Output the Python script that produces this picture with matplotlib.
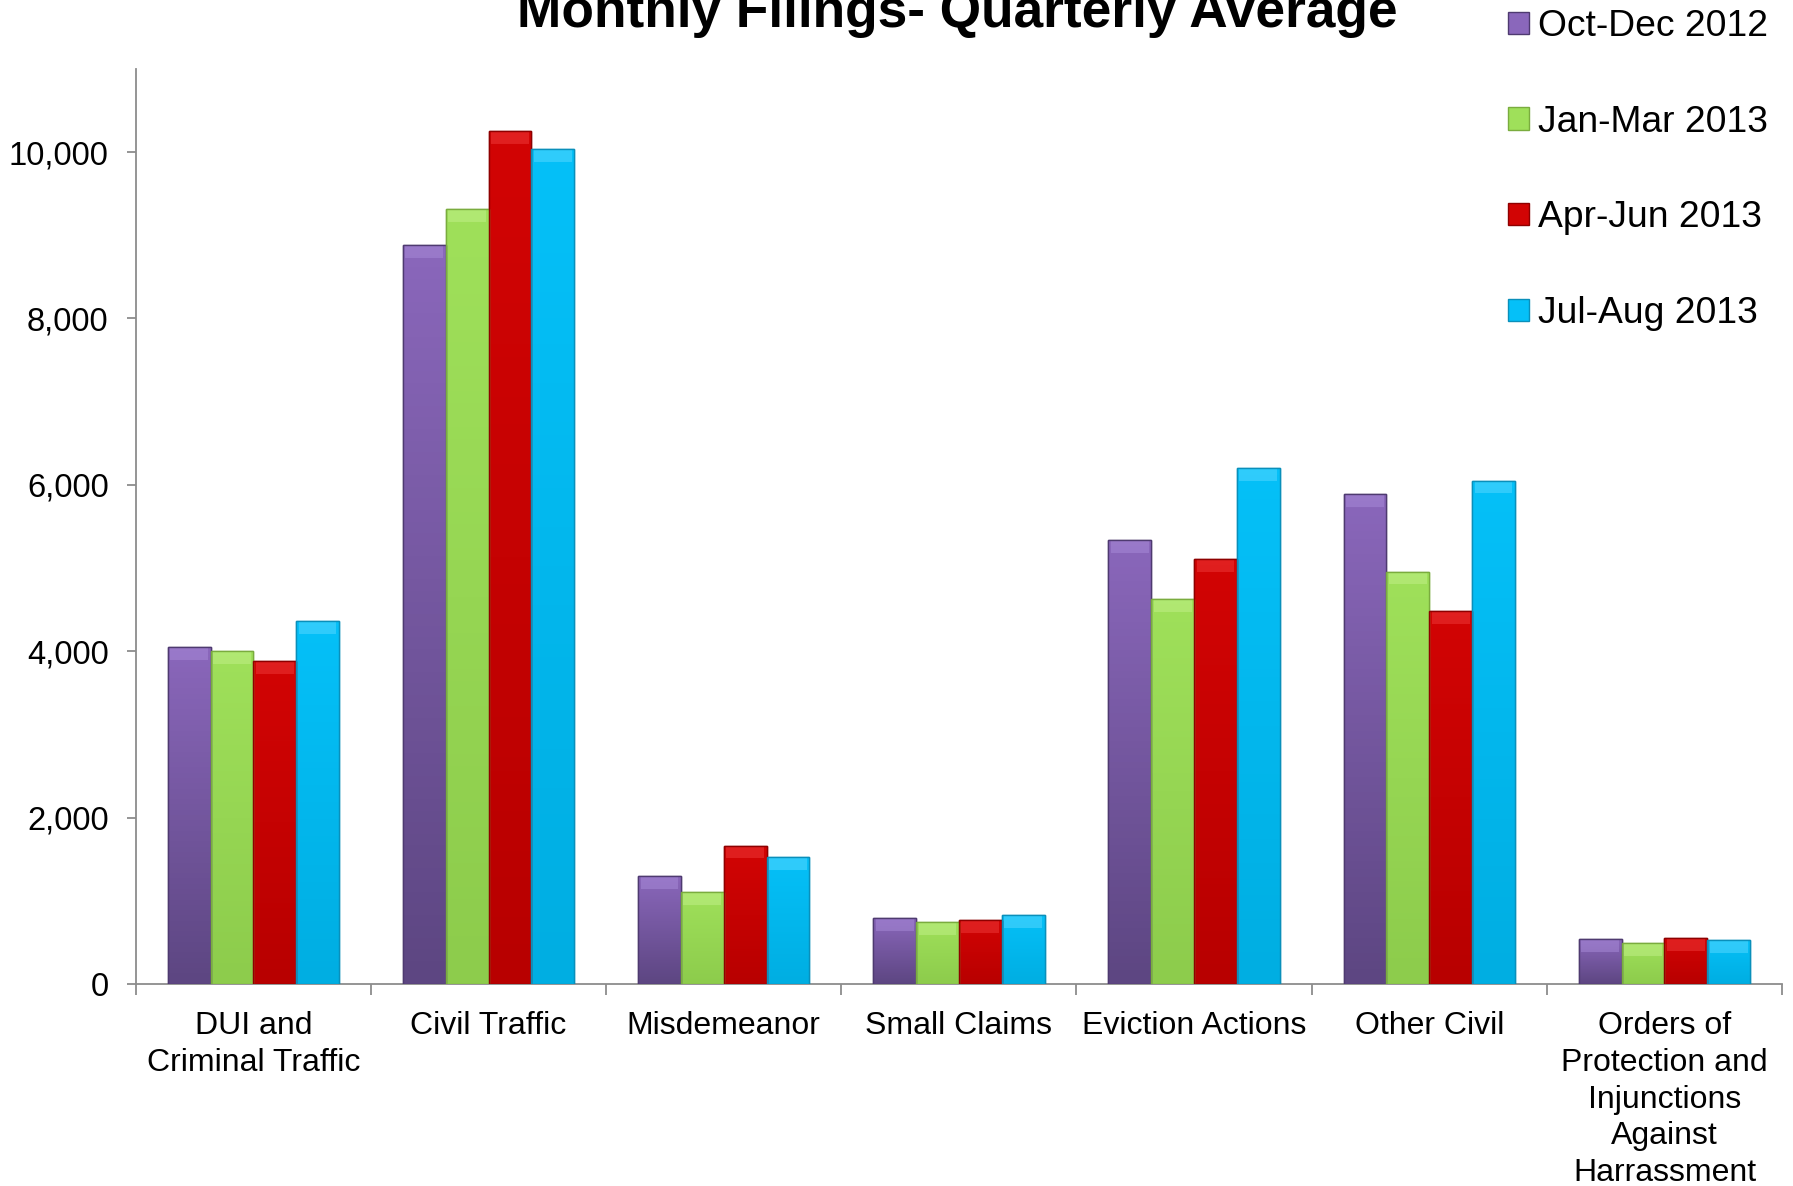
import numpy as np
import matplotlib
matplotlib.use("Agg")
import matplotlib.pyplot as plt
from matplotlib.patches import Rectangle
from matplotlib.colors import LinearSegmentedColormap
from matplotlib.ticker import FuncFormatter, MultipleLocator

plt.rcParams['font.family'] = ['Liberation Sans', 'DejaVu Sans']

categories = ["DUI and\nCriminal Traffic", "Civil Traffic", "Misdemeanor", "Small Claims",
              "Eviction Actions", "Other Civil",
              "Orders of\nProtection and\nInjunctions\nAgainst\nHarrassment"]
series_names = ["Oct-Dec 2012", "Jan-Mar 2013", "Apr-Jun 2013", "Jul-Aug 2013"]
oct_dec_2012 = [4050, 8880, 1300, 796, 5340, 5890, 544]
jan_mar_2013 = [4000, 9310, 1104, 748, 4630, 4960, 500]
apr_jun_2013 = [3885, 10250, 1668, 776, 5107, 4483, 560]
jul_aug_2013 = [4365, 10040, 1531, 836, 6200, 6052, 532]
series_values = [oct_dec_2012, jan_mar_2013, apr_jun_2013, jul_aug_2013]

top_colors = ["#8a67bb", "#9fe05a", "#d20404", "#05c0f8"]
bottom_colors = ["#5d4682", "#8dcc4c", "#b80000", "#00aee2"]
cap_colors = ["#a88bd8", "#c2f08a", "#ee3a3a", "#5ad8ff"]
edge_colors = ["#4e3a70", "#7aac3e", "#8e0000", "#0a8fba"]

fig = plt.figure(figsize=(17.93, 11.86), dpi=100)
ax = fig.add_axes([0.0757, 0.170, 0.9182, 0.772])

n = len(categories)
x = np.arange(n)
width = 0.182
offsets = (np.arange(4) - 1.5) * width

ax.set_xlim(-0.5, n - 0.5)
ax.set_ylim(0, 11000)

for i, (vals, name) in enumerate(zip(series_values, series_names)):
    bars = ax.bar(x + offsets[i], vals, width, color=top_colors[i], edgecolor=edge_colors[i],
                  linewidth=1.0, label=name, zorder=3)
    cmap = LinearSegmentedColormap.from_list("g%d" % i, [bottom_colors[i], top_colors[i]])
    for b in bars:
        bx, by, bw, bh = b.get_x(), b.get_y(), b.get_width(), b.get_height()
        grad = np.linspace(0, 1, 64).reshape(-1, 1)
        im = ax.imshow(grad, cmap=cmap, origin='lower', aspect='auto',
                       extent=(bx, bx + bw, by, by + bh), zorder=3.5)
        im.set_clip_path(b)
        # bevel cap at top
        cap_h = 0.014 * ax.get_ylim()[1]
        ax.add_patch(Rectangle((bx + bw * 0.06, by + bh - cap_h), bw * 0.88, cap_h,
                               facecolor=cap_colors[i], edgecolor='none', alpha=0.5, zorder=4))
        ax.add_patch(Rectangle((bx, by), bw, bh, facecolor='none',
                               edgecolor=edge_colors[i], linewidth=1.0, zorder=4.5))

ax.set_xlim(-0.5, n - 0.5)
ax.set_ylim(0, 11000)

for s in ['top', 'right']:
    ax.spines[s].set_visible(False)
for s in ['left', 'bottom']:
    ax.spines[s].set_color('#8c8c8c')
    ax.spines[s].set_linewidth(1.3)

ax.yaxis.set_major_locator(MultipleLocator(2000))
ax.yaxis.set_major_formatter(FuncFormatter(lambda v, p: f"{int(v):,}"))
ax.tick_params(axis='y', length=6.5, width=1.3, color='#8c8c8c', pad=13, labelsize=23.6)

ax.set_xticks(np.arange(n + 1) - 0.5, minor=False)
ax.set_xticklabels([])
ax.set_xticks(x, minor=True)
ax.set_xticklabels(categories, minor=True, fontsize=23, linespacing=1.29)
ax.tick_params(axis='x', which='major', length=8, width=1.3, color='#8c8c8c')
ax.tick_params(axis='x', which='minor', length=0, pad=19.5)

fig.text(0.534, 0.9775, "Monthly Filings- Quarterly Average", ha='center', va='baseline',
         fontsize=38.3, fontweight='bold')

leg = fig.legend(loc='upper left', bbox_to_anchor=(0.833, 1.005), frameon=False,
                 fontsize=26.8, handlelength=0.55, handleheight=0.55, handletextpad=0.25,
                 labelspacing=1.63, borderaxespad=0)

fig.savefig("out.png", dpi=100)
